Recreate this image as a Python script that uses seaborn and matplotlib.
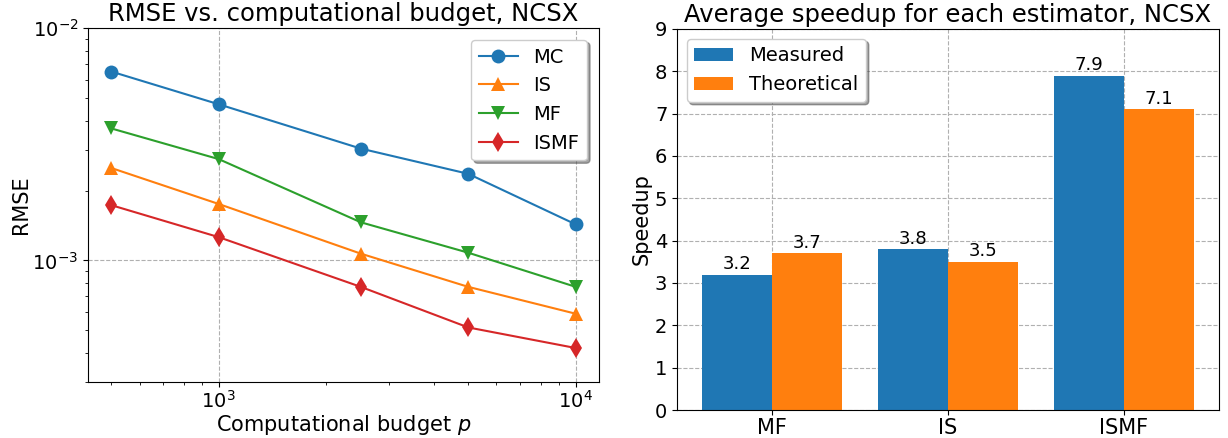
import numpy as np
import pandas as pd
import seaborn as sns
from matplotlib import pyplot as plt

# RMSE vs budget
budgets = [500, 1000, 2500, 5000, 10000]
rmse_mc = [6.5e-3, 4.7e-3, 3.03e-3, 2.36e-3, 1.43e-3]
rmse_is = [2.5e-3, 1.75e-3, 1.07e-3, 7.7e-4, 5.9e-4]
rmse_mf = [3.7e-3, 2.73e-3, 1.46e-3, 1.08e-3, 7.7e-4]
rmse_ismf = [1.73e-3, 1.26e-3, 7.7e-4, 5.15e-4, 4.2e-4]

estimators = ['MF', 'IS', 'ISMF']
speedup_measured = [3.2, 3.8, 7.9]
speedup_theoretical = [3.7, 3.5, 7.1]

fig = plt.figure(figsize=(12.28, 4.38), dpi=100)
ax1 = fig.add_axes([0.0717, 0.1279, 0.416, 0.808])
ax2 = fig.add_axes([0.5513, 0.0639, 0.4414, 0.870])

colors = sns.color_palette('tab10')
series = [('MC', rmse_mc, 'o'), ('IS', rmse_is, '^'), ('MF', rmse_mf, 'v'), ('ISMF', rmse_ismf, 'd')]
for k, (name, vals, m) in enumerate(series):
    sns.lineplot(x=budgets, y=vals, ax=ax1, marker=m, markersize=10, markeredgewidth=0,
                 color=colors[k], label=name, linewidth=1.5)

ax1.set_xscale('log')
ax1.set_yscale('log')
ax1.set_ylim(3e-4, 1e-2)
ax1.grid(True, which='major', linestyle='--', color='#b0b0b0', linewidth=0.8)
ax1.set_title('RMSE vs. computational budget, NCSX', fontsize=17.5, pad=5)
ax1.set_xlabel('Computational budget $p$', fontsize=15, labelpad=1)
ax1.set_ylabel('RMSE', fontsize=15, labelpad=1)
ax1.tick_params(labelsize=14)
ax1.tick_params(axis='x', pad=2)
ax1.legend(loc='upper right', fontsize=14, shadow=True, fancybox=True, framealpha=1, borderaxespad=0.6)

df = pd.DataFrame({
    'estimator': estimators * 2,
    'speedup': speedup_measured + speedup_theoretical,
    'kind': ['Measured'] * 3 + ['Theoretical'] * 3,
})
sns.barplot(data=df, x='estimator', y='speedup', hue='kind', ax=ax2,
            palette=[colors[0], colors[1]], saturation=1, width=0.8, errorbar=None)
for c in ax2.containers:
    ax2.bar_label(c, fmt='%.1f', fontsize=13, padding=1)
ax2.set_xlim(-0.54, 2.54)
ax2.set_ylim(0, 9)
ax2.set_axisbelow(True)
ax2.grid(True, linestyle='--', color='#b0b0b0', linewidth=0.8)
ax2.set_title('Average speedup for each estimator, NCSX', fontsize=17.5, pad=5)
ax2.set_xlabel('')
ax2.set_ylabel('Speedup', fontsize=15, labelpad=2)
ax2.tick_params(labelsize=14)
ax2.tick_params(axis='x', labelsize=15, pad=2)
ax2.legend(loc='upper left', fontsize=14, shadow=True, fancybox=True, framealpha=1, title=None)

plt.savefig('out.png', dpi=100)
